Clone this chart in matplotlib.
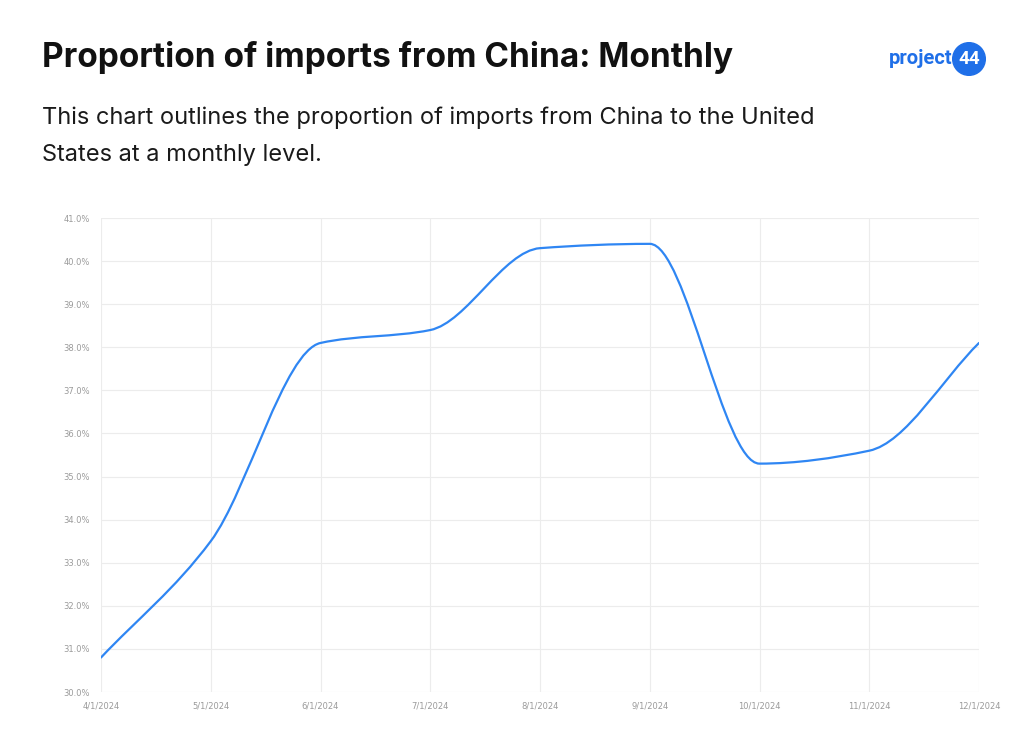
import numpy as np
import matplotlib
matplotlib.use("Agg")
import matplotlib.pyplot as plt
from matplotlib.path import Path
from matplotlib.patches import PathPatch, Circle

months = ["4/1/2024", "5/1/2024", "6/1/2024", "7/1/2024", "8/1/2024",
          "9/1/2024", "10/1/2024", "11/1/2024", "12/1/2024"]
share = [30.8, 33.5, 38.1, 38.4, 40.3, 40.4, 35.3, 35.6, 38.1]
yticks = [30, 31, 32, 33, 34, 35, 36, 37, 38, 39, 40, 41]

LINE = "#2f86f3"
BRAND = "#1f6fe8"

fig = plt.figure(figsize=(10.24, 7.40), dpi=100)
fig.patch.set_facecolor("white")

ax = fig.add_axes([101/1024, 1-692/740, (979-101)/1024, (692-218)/740])

x = np.arange(len(share), dtype=float)
y = np.asarray(share, dtype=float)

# monotone cubic (Fritsch-Carlson) tangents -> bezier path through the data points
h = np.diff(x)
d = np.diff(y) / h
m = np.zeros_like(y)
m[0], m[-1] = d[0], d[-1]
for i in range(1, len(y)-1):
    if d[i-1] * d[i] <= 0:
        m[i] = 0.0
    else:
        m[i] = 3*(h[i-1]+h[i]) / ((2*h[i]+h[i-1])/d[i-1] + (h[i]+2*h[i-1])/d[i])
for i in range(len(d)):
    if d[i] == 0:
        m[i] = m[i+1] = 0
verts = [(x[0], y[0])]
codes = [Path.MOVETO]
for i in range(len(d)):
    verts += [(x[i]+h[i]/3, y[i]+m[i]*h[i]/3),
              (x[i+1]-h[i]/3, y[i+1]-m[i+1]*h[i]/3),
              (x[i+1], y[i+1])]
    codes += [Path.CURVE4]*3
ax.add_patch(PathPatch(Path(verts, codes), facecolor="none", edgecolor=LINE,
                       lw=1.6, capstyle="round", joinstyle="round", zorder=3))

ax.set_xlim(0, len(months)-1)
ax.set_ylim(30, 41)
ax.set_xticks(x)
ax.set_xticklabels(months)
ax.set_yticks(yticks)
ax.set_yticklabels([f"{v:.1f}%" for v in yticks])
ax.grid(True, color="#ececec", lw=0.8)
ax.set_axisbelow(True)
for s in ax.spines.values():
    s.set_visible(False)
ax.tick_params(length=0, labelsize=6, labelcolor="#9a9a9a", pad=7)
ax.tick_params(axis="y", pad=8)

fig.text(42/1024, 1-58/740, "Proportion of imports from China: Monthly",
         fontsize=24, fontweight="bold", family="Inter", color="#111111",
         va="center", ha="left")
fig.text(42/1024, 1-118/740, "This chart outlines the proportion of imports from China to the United",
         fontsize=17, family="Inter", color="#1a1a1a", va="center", ha="left")
fig.text(42/1024, 1-155/740, "States at a monthly level.",
         fontsize=17, family="Inter", color="#1a1a1a", va="center", ha="left")

# logo
fig.text(952/1024, 1-58/740, "project", fontsize=14.5, fontweight="bold",
         family="Roboto", color=BRAND, va="center", ha="right")
lax = fig.add_axes([952/1024, 1-76/740, 34/1024, 34/740])
lax.set_xlim(0, 1); lax.set_ylim(0, 1); lax.axis("off")
lax.add_patch(Circle((0.5, 0.5), 0.48, color=BRAND, transform=lax.transAxes))
lax.text(0.5, 0.49, "44", color="white", fontsize=13.5, fontweight="bold",
         family="Roboto", ha="center", va="center", transform=lax.transAxes)

fig.savefig("out.png", dpi=100, facecolor="white")
